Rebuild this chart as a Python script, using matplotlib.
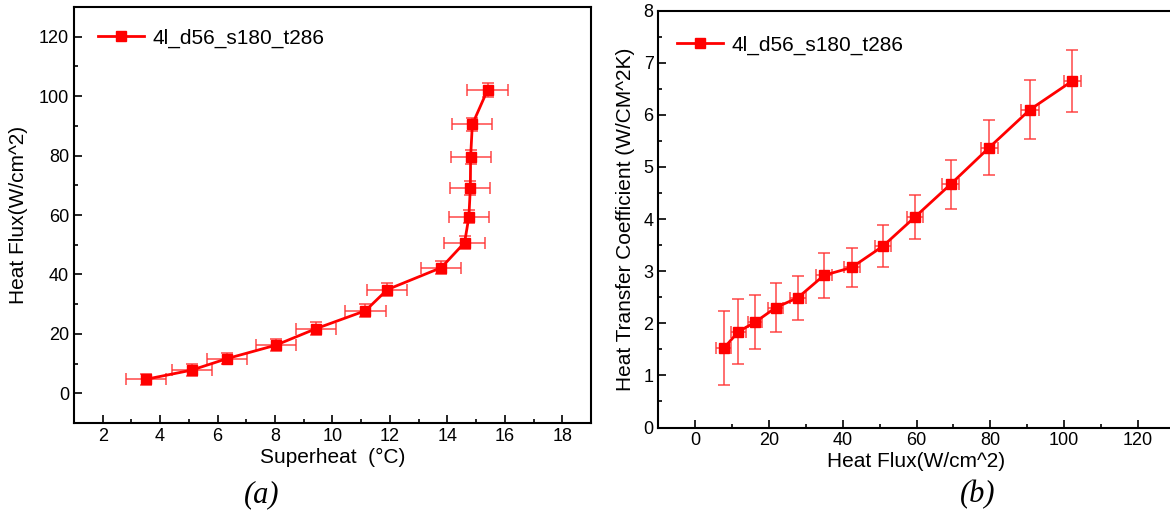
import matplotlib
matplotlib.use("Agg")
import matplotlib.pyplot as plt
from matplotlib.ticker import MultipleLocator

plt.rcParams['font.family'] = ['Liberation Sans', 'DejaVu Sans']

label = "4l_d56_s180_t286"

# (a) superheat vs heat flux
superheat = [3.50, 5.10, 6.34, 8.03, 9.44, 11.15, 11.91, 13.79, 14.60, 14.75, 14.80, 14.81, 14.87, 15.40]
superheat_err = [0.7] * 14
flux = [4.7, 7.8, 11.7, 16.2, 21.8, 27.8, 34.9, 42.3, 50.7, 59.4, 69.1, 79.5, 90.5, 102.1]
flux_err = [1.8, 1.9, 2.0, 2.0, 2.1, 2.1, 2.1, 2.2, 2.2, 2.2, 2.3, 2.3, 2.3, 2.4]

# (b) heat flux vs heat transfer coefficient
flux_b = [7.7, 11.7, 16.2, 21.8, 27.8, 34.9, 42.4, 50.9, 59.6, 69.3, 79.7, 90.8, 102.3]
flux_b_err = [2.0, 2.0, 2.0, 2.1, 2.1, 2.1, 2.2, 2.2, 2.2, 2.3, 2.3, 2.4, 2.4]
htc = [1.52, 1.84, 2.02, 2.30, 2.49, 2.92, 3.07, 3.48, 4.04, 4.67, 5.37, 6.10, 6.65]
htc_err = [0.71, 0.62, 0.52, 0.47, 0.42, 0.43, 0.38, 0.40, 0.43, 0.47, 0.52, 0.57, 0.59]

fig = plt.figure(figsize=(11.7, 5.18), dpi=100)
ax1 = fig.add_axes([0.0632, 0.1834, 0.4419, 0.803])
ax2 = fig.add_axes([0.5628, 0.1747, 0.4411, 0.805])


def draw(ax, x, y, xerr, yerr, anchor):
    ax.errorbar(x, y, xerr=xerr, yerr=yerr, fmt='none', ecolor='#ff3030',
                alpha=0.75, elinewidth=1.3, capsize=4, capthick=1.3, zorder=2)
    ax.plot(x, y, 's-', color='#ff0000', lw=2, ms=7, label=label, zorder=3)
    ax.tick_params(which='both', direction='in', labelsize=13, width=1.2)
    ax.tick_params(which='major', length=6)
    ax.tick_params(which='minor', length=3)
    for s in ax.spines.values():
        s.set_linewidth(1.5)
    ax.legend(loc='center left', bbox_to_anchor=anchor, frameon=False, fontsize=15,
              handlelength=2.2, handletextpad=0.4, borderpad=0, borderaxespad=0)


draw(ax1, superheat, flux, superheat_err, flux_err, (0.047, 0.9255))
ax1.xaxis.set_major_locator(MultipleLocator(2))
ax1.xaxis.set_minor_locator(MultipleLocator(1))
ax1.yaxis.set_major_locator(MultipleLocator(20))
ax1.yaxis.set_minor_locator(MultipleLocator(10))
ax1.set_xticks(range(2, 19, 2))
ax1.set_xlim(1, 19)
ax1.set_ylim(-10, 130)
ax1.set_xlabel("Superheat  (°C)", fontsize=15, labelpad=2)
ax1.set_ylabel("Heat Flux(W/cm^2)", fontsize=15, labelpad=8)

draw(ax2, flux_b, htc, flux_b_err, htc_err, (0.036, 0.917))
ax2.xaxis.set_major_locator(MultipleLocator(20))
ax2.xaxis.set_minor_locator(MultipleLocator(10))
ax2.yaxis.set_major_locator(MultipleLocator(1))
ax2.yaxis.set_minor_locator(MultipleLocator(0.5))
ax2.set_xticks(range(0, 121, 20))
ax2.set_xlim(-10, 130)
ax2.set_ylim(0, 8)
ax2.set_xlabel("Heat Flux(W/cm^2)", fontsize=15, labelpad=2)
ax2.set_ylabel("Heat Transfer Coefficient (W/CM^2K)", fontsize=15, labelpad=6)

fig.text(262 / 1170, 1 - 495 / 518, "(a)", fontsize=22, style='italic',
         family='Liberation Serif', ha='center', va='center')
fig.text(978 / 1170, 1 - 495 / 518, "(b)", fontsize=22, style='italic',
         family='Liberation Serif', ha='center', va='center')

fig.savefig("out.png", dpi=100)
